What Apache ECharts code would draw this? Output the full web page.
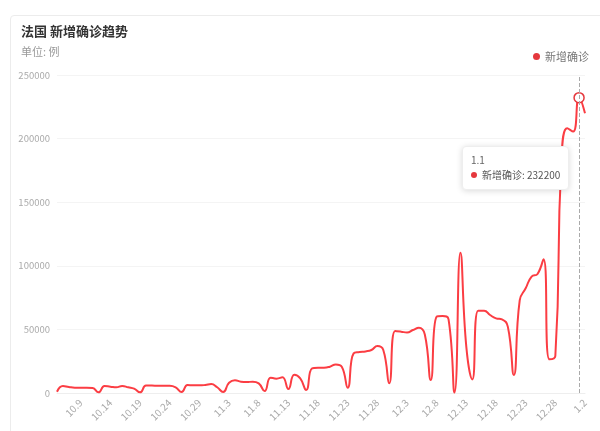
<!DOCTYPE html>
<html>
<head>
<meta charset="utf-8">
<script src="https://cdn.jsdelivr.net/npm/echarts@6/dist/echarts.min.js"></script>
<style>
html,body{margin:0;padding:0;background:#fff;}
#card{position:absolute;left:10px;top:15px;width:620px;height:440px;border:1px solid #ececec;border-radius:4px;box-sizing:border-box;}
#main{position:absolute;left:0;top:0;width:600px;height:431px;}
</style>
</head>
<body>
<div id="card"></div>
<div id="main"></div>
<script>
const startMonth = 10, startDay = 5, dayCount = 90;
const categories = [];
(function(){
  const monthDays = {10:31, 11:30, 12:31, 1:31};
  let m = startMonth, d = startDay;
  for (let i = 0; i < dayCount; i++) {
    categories.push(m + '.' + d);
    d++;
    if (d > monthDays[m]) { d = 1; m = m === 12 ? 1 : m + 1; }
  }
})();
const newCases = [
  1000, 5500, 4700, 4200, 4200, 4200, 3900, 500, 5500, 5000,
  4500, 5500, 4500, 3400, 500, 5800, 5800, 5700, 5700, 5700,
  4500, 800, 6300, 6000, 6000, 6300, 7000, 4500, 800, 8000,
  10000, 8900, 8600, 8900, 7600, 1500, 12000, 11300, 12300, 3100,
  14400, 11500, 2400, 19400, 19900, 19900, 20700, 22500, 20700, 4200,
  31200, 32200, 32700, 33800, 36900, 33800, 7600, 48700, 48200, 47600,
  49500, 51300, 46000, 10200, 60000, 60500, 57900, 300, 110300, 36000,
  10700, 64700, 64700, 61300, 58700, 57900, 52000, 14200, 73000, 82300,
  91500, 93600, 105100, 26500, 29100, 180000, 208100, 205500, 232200, 219900
];
const yTicks = [0, 50000, 100000, 150000, 200000, 250000];
const seriesName = '新增确诊';
const titleText = '法国 新增确诊趋势';
const subText = '单位: 例';
const highlightIndex = 88;

const red = '#e5383d';
const chart = echarts.init(document.getElementById('main'), null, {renderer: 'canvas'});
chart.setOption({
  animation: false,
  textStyle: {fontFamily: '"Noto Sans CJK SC", "Microsoft YaHei", sans-serif'},
  title: {
    text: titleText,
    subtext: subText,
    left: 16, top: 20,
    itemGap: 8,
    textStyle: {fontSize: 13, fontWeight: 'bold', color: '#333'},
    subtextStyle: {fontSize: 11, color: '#999'}
  },
  legend: {
    data: [seriesName],
    right: 6, top: 46,
    icon: 'circle', itemWidth: 7, itemHeight: 7, itemGap: 4,
    textStyle: {fontSize: 11, color: '#777'}
  },
  tooltip: {
    trigger: 'axis',
    triggerOn: 'none',
    alwaysShowContent: true,
    position: [462, 146],
    backgroundColor: '#fff',
    borderColor: '#eee',
    borderWidth: 1,
    padding: [5, 8, 7, 8],
    extraCssText: 'box-shadow:0 1px 6px rgba(0,0,0,0.15);border-radius:4px;',
    textStyle: {fontSize: 10, color: '#555'},
    axisPointer: {type: 'line', lineStyle: {color: '#aaa', type: 'dashed', width: 1}},
    formatter: function(params){
      const p = params[0];
      return '<div style="font-size:10px;color:#666;line-height:15px;">' + p.axisValue + '</div>' +
        '<div style="font-size:10px;color:#555;line-height:15px;"><span style="display:inline-block;width:6px;height:6px;border-radius:50%;background:' + red + ';margin-right:5px;vertical-align:1px;"></span>' +
        p.seriesName + ': ' + p.value + '</div>';
    }
  },
  grid: {left: 57, right: 15, top: 75, bottom: 38, containLabel: false},
  xAxis: {
    type: 'category',
    data: categories,
    boundaryGap: false,
    axisLine: {lineStyle: {color: '#eee'}},
    axisTick: {show: false},
    axisLabel: {
      interval: function(idx){ return idx % 5 === 4; },
      rotate: 45,
      fontSize: 10,
      color: '#aaa',
      margin: 8
    }
  },
  yAxis: {
    type: 'value',
    min: yTicks[0],
    max: yTicks[yTicks.length - 1],
    interval: yTicks[1] - yTicks[0],
    axisLine: {show: false},
    axisTick: {show: false},
    axisLabel: {fontSize: 9.5, color: '#aaa', margin: 7, formatter: function(v){ return String(v); }},
    splitLine: {lineStyle: {color: '#f4f4f4'}}
  },
  series: [{
    name: seriesName,
    type: 'line',
    data: newCases,
    smooth: true,
    showSymbol: false,
    symbol: 'emptyCircle',
    symbolSize: 10,
    itemStyle: {color: red},
    lineStyle: {color: red, width: 2},
    emphasis: {scale: false, itemStyle: {color: '#fff', borderColor: red, borderWidth: 1.5}}
  }]
});
chart.dispatchAction({type: 'showTip', seriesIndex: 0, dataIndex: highlightIndex});
</script>
</body>
</html>
